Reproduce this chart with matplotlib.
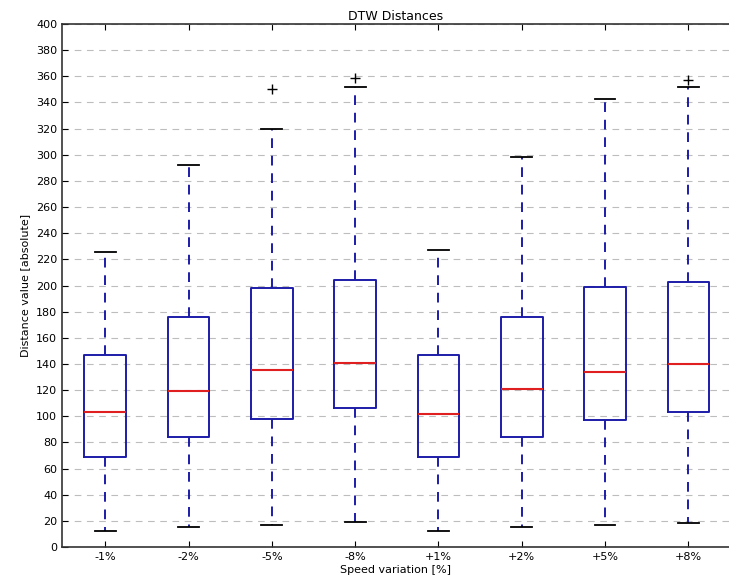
import matplotlib
matplotlib.use("Agg")
import matplotlib.pyplot as plt

labels = ["-1%", "-2%", "-5%", "-8%", "+1%", "+2%", "+5%", "+8%"]
whislo = [12, 15, 17, 19, 12, 15, 17, 18]
q1 = [69, 84, 98, 106, 69, 84, 97, 103]
med = [103, 119, 135, 141, 102, 121, 134, 140]
q3 = [147, 176, 198, 204, 147, 176, 199, 203]
whishi = [226, 292, 320, 352, 227, 298, 343, 352]
fliers = [[], [], [350], [359], [], [], [], [357]]

stats = []
for i in range(len(labels)):
    stats.append(dict(label=labels[i], whislo=whislo[i], q1=q1[i], med=med[i],
                      q3=q3[i], whishi=whishi[i], fliers=fliers[i]))

fig = plt.figure(figsize=(7.29, 5.85), dpi=100)
ax = fig.add_axes([62/729, 1-547/585, 668/729, (547-24)/585])
ax.bxp(stats, widths=0.5,
       boxprops=dict(color="#1c1ca8", linewidth=1.4),
       medianprops=dict(color="#e02020", linewidth=1.5),
       whiskerprops=dict(color="#1c1ca8", linestyle=(0, (5, 4)), linewidth=1.4),
       capprops=dict(color="black", linewidth=1.3),
       flierprops=dict(marker="+", markeredgecolor="black", markersize=7, linestyle="none"))
ax.set_xlim(0.48, 8.5)
ax.set_ylim(0, 400)
ax.set_yticks(range(0, 401, 20))
ax.yaxis.grid(True, linestyle=(0, (6, 5)), color="#bdbdbd", linewidth=0.8)
ax.set_axisbelow(True)
ax.tick_params(direction="in", top=True, right=False, labelsize=8, length=4)
ax.set_title("DTW Distances", fontsize=9, pad=3)
ax.set_xlabel("Speed variation [%]", fontsize=8, labelpad=2)
ax.set_ylabel("Distance value [absolute]", fontsize=8, labelpad=4)
for s in ax.spines.values():
    s.set_linewidth(1.2)
    s.set_color("#333333")
ax.spines["right"].set_visible(False)
fig.savefig("out.png", dpi=100)
